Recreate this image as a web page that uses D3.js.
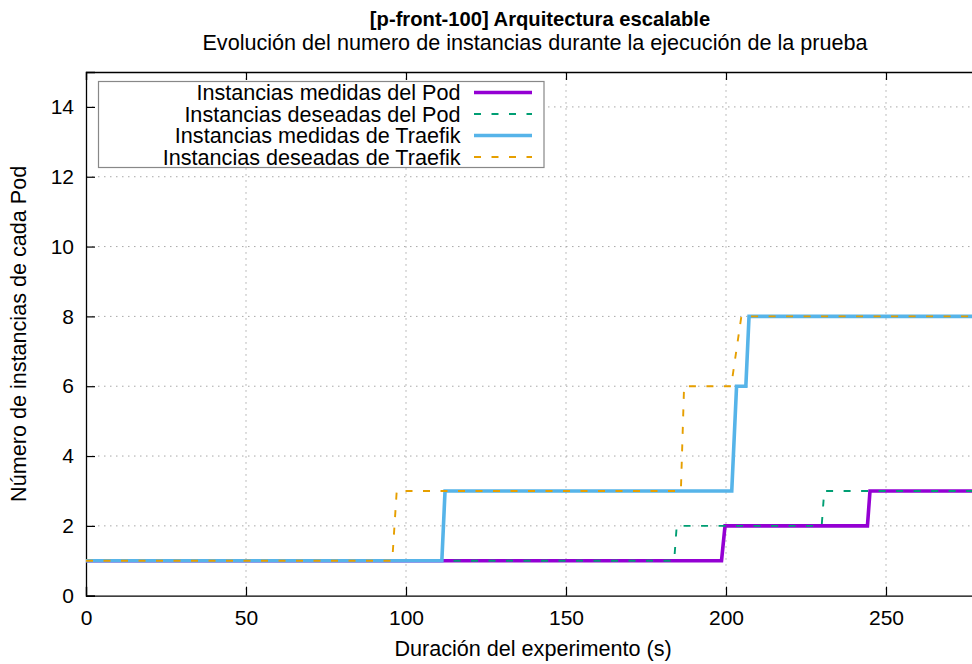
<!DOCTYPE html>
<html>
<head>
<meta charset="utf-8">
<script src="https://cdn.jsdelivr.net/npm/d3@7"></script>
<style>
  html, body { margin: 0; padding: 0; background: #fff; }
  svg { display: block; font-family: "Liberation Sans", Arial, Helvetica, sans-serif; }
</style>
</head>
<body>
<svg id="chart" width="972" height="664"></svg>
<script>
// Time (s) and instance counts for each series
const podMedidasT   = [0, 198.6, 199.7, 244.2, 245.0, 280];
const podMedidasV   = [1, 1, 2, 2, 3, 3];
const podDeseadasT  = [0, 183.8, 184.6, 229.9, 230.7, 280];
const podDeseadasV  = [1, 1, 2, 2, 3, 3];
const traefikMedidasT  = [0, 111.2, 112.2, 201.8, 203.3, 206.2, 207.2, 280];
const traefikMedidasV  = [1, 1, 3, 3, 6, 6, 8, 8];
const traefikDeseadasT = [0, 95.7, 97.1, 185.9, 186.9, 201.6, 204.8, 280];
const traefikDeseadasV = [1, 1, 3, 3, 6, 6, 8, 8];

const seriesNames = [
  "Instancias medidas del Pod",
  "Instancias deseadas del Pod",
  "Instancias medidas de Traefik",
  "Instancias deseadas de Traefik"
];
const xTicks = [0, 50, 100, 150, 200, 250];
const yTicks = [0, 2, 4, 6, 8, 10, 12, 14];

const title = "[p-front-100] Arquitectura escalable";
const subtitle = "Evolución del numero de instancias durante la ejecución de la prueba";
const xLabel = "Duración del experimento (s)";
const yLabel = "Número de instancias de cada Pod";

const series = [
  { name: seriesNames[0], t: podMedidasT, v: podMedidasV, color: "#9400d3", width: 3.6, dash: null },
  { name: seriesNames[1], t: podDeseadasT, v: podDeseadasV, color: "#009e73", width: 1.9, dash: "7,10.5" },
  { name: seriesNames[2], t: traefikMedidasT, v: traefikMedidasV, color: "#56b4e9", width: 3.6, dash: null },
  { name: seriesNames[3], t: traefikDeseadasT, v: traefikDeseadasV, color: "#e69f00", width: 1.9, dash: "7,10.5" }
];

const svg = d3.select("#chart");
const pLeft = 86, pTop = 72, pBottom = 595.7, pRight = 982;

const x = d3.scaleLinear().domain([0, 280]).range([pLeft, pRight]);
const y = d3.scaleLinear().domain([0, 15]).range([pBottom, pTop]);

svg.append("rect").attr("width", 972).attr("height", 664).attr("fill", "#fff");

// dotted grid
const grid = svg.append("g").attr("stroke", "#a8a8a8").attr("stroke-width", 1)
  .attr("stroke-dasharray", "1.5,4.5");
grid.selectAll("line.gx").data(xTicks.filter(d => d > 0)).join("line")
  .attr("x1", d => x(d)).attr("x2", d => x(d))
  .attr("y1", pBottom).attr("y2", pTop);
grid.selectAll("line.gy").data(yTicks.filter(d => d > 0)).join("line")
  .attr("x1", pLeft).attr("x2", pRight)
  .attr("y1", d => y(d)).attr("y2", d => y(d));

// axes with inward ticks
const tickFont = 21;
const xAxis = svg.append("g").attr("transform", `translate(0,${pBottom})`)
  .call(d3.axisBottom(x).tickValues(xTicks).tickSize(-9).tickPadding(14).tickFormat(d3.format("d")));
const xTop = svg.append("g").attr("transform", `translate(0,${pTop})`)
  .call(d3.axisTop(x).tickValues(xTicks).tickSize(-8).tickFormat(""));
const yAxis = svg.append("g").attr("transform", `translate(${pLeft},0)`)
  .call(d3.axisLeft(y).tickValues(yTicks).tickSize(-9).tickPadding(12).tickFormat(d3.format("d")));

[xAxis, xTop, yAxis].forEach(g => {
  g.select(".domain").attr("stroke", "#000").attr("stroke-width", 1.3);
  g.selectAll(".tick line").attr("stroke", "#000").attr("stroke-width", 1.2);
  g.selectAll("text").attr("font-size", tickFont).attr("fill", "#000")
    .attr("font-family", "Liberation Sans, Arial, sans-serif");
});
xAxis.selectAll(".tick text").attr("dy", "0.71em");

// series lines
const line = d3.line().x(d => x(d[0])).y(d => y(d[1]));
const plot = svg.append("g");
series.forEach(s => {
  const pts = s.t.map((t, i) => [t, s.v[i]]);
  plot.append("path").datum(pts)
    .attr("fill", "none")
    .attr("stroke", s.color)
    .attr("stroke-width", s.width)
    .attr("stroke-dasharray", s.dash)
    .attr("stroke-linejoin", "miter")
    .attr("d", line);
});

// legend
const lg = svg.append("g");
lg.append("rect").attr("x", 98.5).attr("y", 81.5).attr("width", 445.5).attr("height", 86)
  .attr("fill", "#fff").attr("stroke", "#888").attr("stroke-width", 1.2);
const rowY = [92.5, 114, 135.5, 157];
series.forEach((s, i) => {
  lg.append("text").attr("x", 460.5).attr("y", rowY[i]).attr("dy", "0.35em")
    .attr("text-anchor", "end").attr("font-size", 21.6).attr("fill", "#000").text(s.name);
  lg.append("line").attr("x1", 474).attr("x2", 532).attr("y1", rowY[i]).attr("y2", rowY[i])
    .attr("stroke", s.color).attr("stroke-width", s.width).attr("stroke-dasharray", s.dash);
});

// titles
svg.append("text").attr("x", 540).attr("y", 26).attr("text-anchor", "middle")
  .attr("font-size", 20.2).attr("font-weight", "bold").attr("fill", "#000").text(title);
svg.append("text").attr("x", 535).attr("y", 49.5).attr("text-anchor", "middle")
  .attr("font-size", 21.6).attr("fill", "#000").text(subtitle);

// axis titles
svg.append("text").attr("x", 533).attr("y", 656).attr("text-anchor", "middle")
  .attr("font-size", 21.6).attr("fill", "#000").text(xLabel);
svg.append("text").attr("transform", `translate(25.5,${(pTop + pBottom) / 2}) rotate(-90)`)
  .attr("text-anchor", "middle").attr("font-size", 21.6).attr("fill", "#000").text(yLabel);
</script>
</body>
</html>
